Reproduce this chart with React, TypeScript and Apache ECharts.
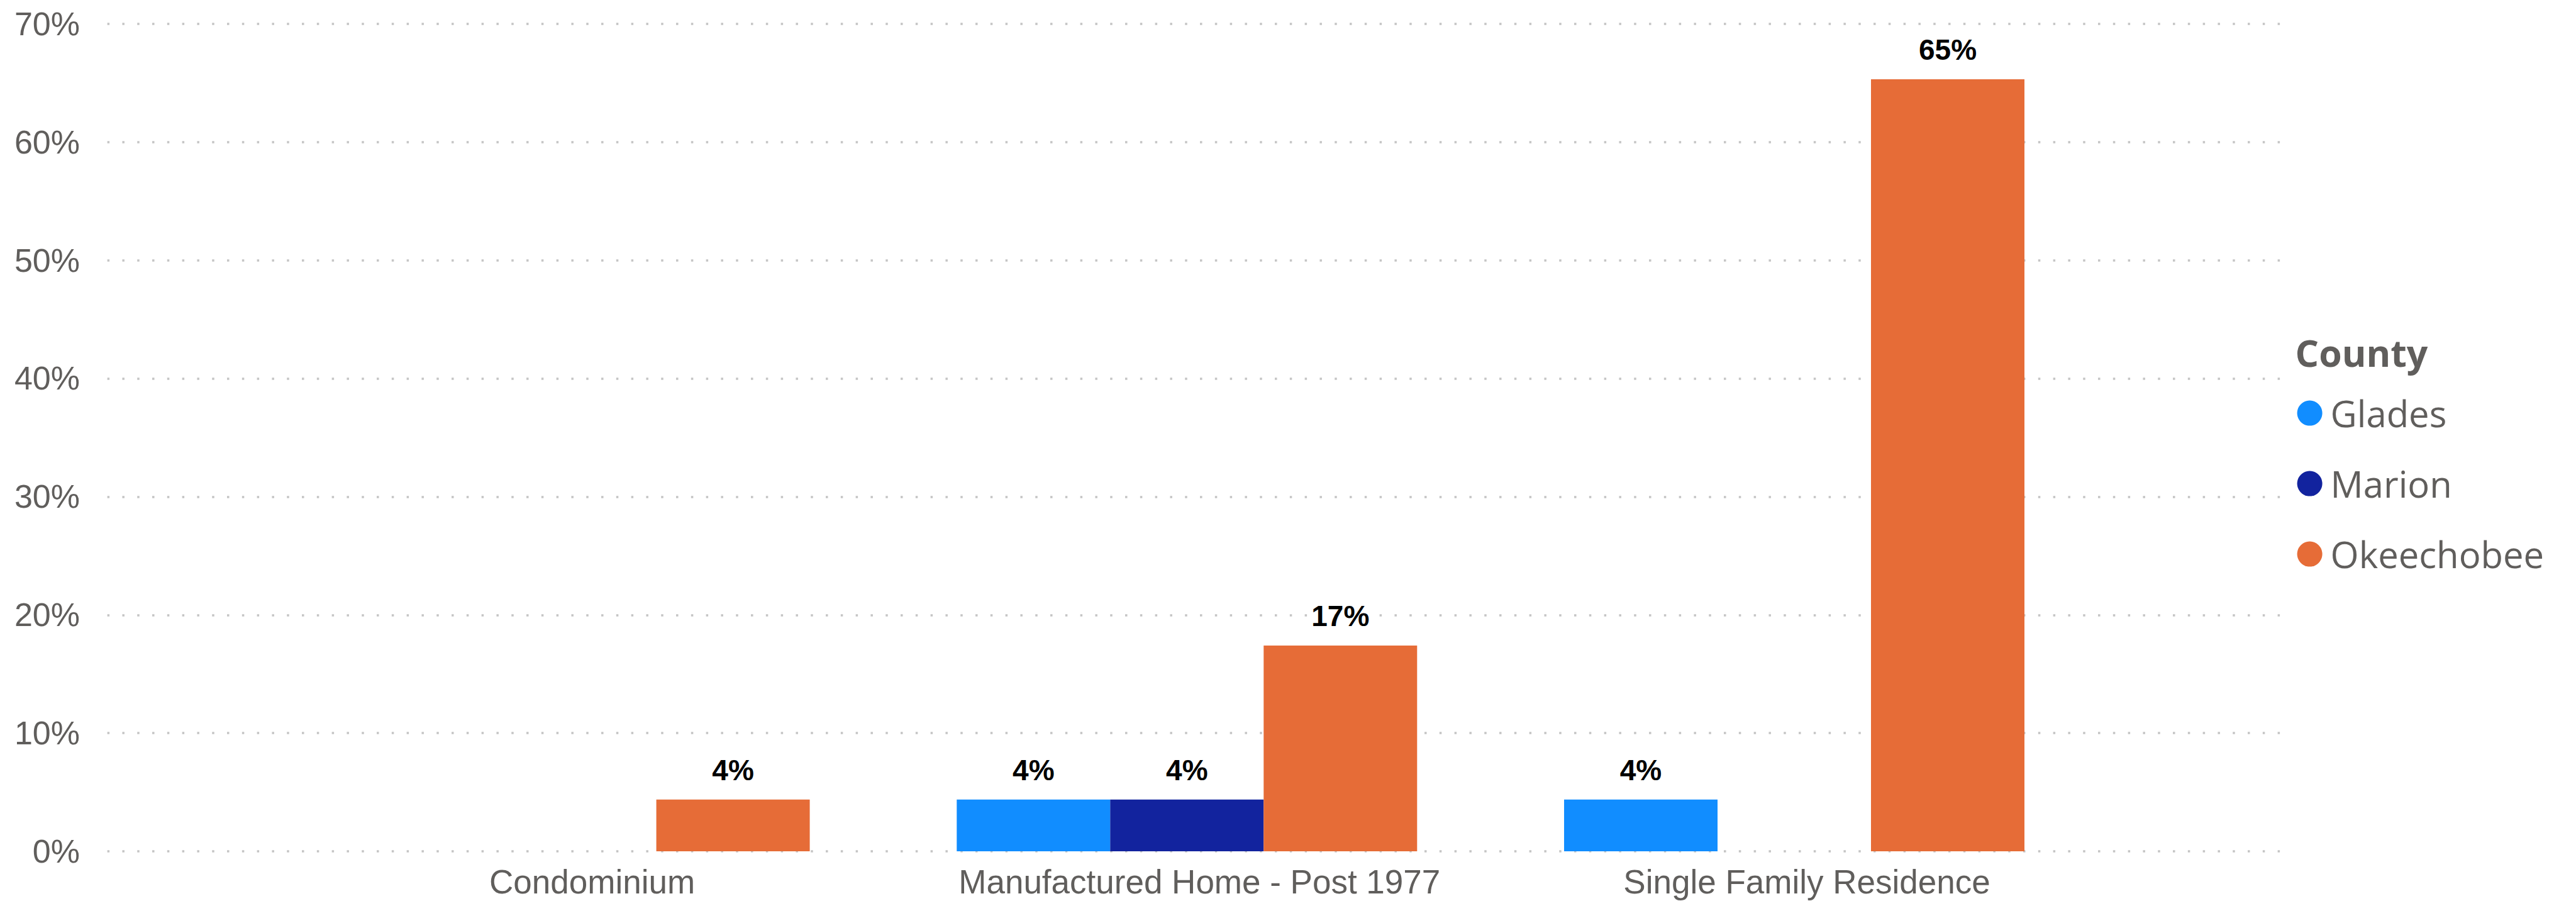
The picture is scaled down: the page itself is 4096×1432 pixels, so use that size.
import React, { useEffect, useRef } from 'react';
import * as echarts from 'echarts';

const categories = ['Condominium', 'Manufactured Home - Post 1977', 'Single Family Residence'];
const seriesNames = ['Glades', 'Marion', 'Okeechobee'];
const glades = [null, 4.38, 4.38];
const marion = [null, 4.38, null];
const okeechobee = [4.38, 17.41, 65.3];
const colors = ['#118DFF', '#12239E', '#E66C37'];
const yMin = 0;
const yMax = 70;
const yInterval = 10;
const legendTitle = 'County';

const S = 0.992;
const axisFont = "'Liberation Sans', Arial, sans-serif";
const legendFont = "'Segoe UI', 'Open Sans', sans-serif";
const gray = '#605E5C';

export default function App() {
  const ref = useRef<HTMLDivElement>(null);
  useEffect(() => {
    const chart = echarts.init(ref.current as HTMLDivElement, null, { renderer: 'svg' });
    const plotTop = 38 * S;
    const plotH = (1364 - 38) * S;
    const labelStyle = {
      show: true,
      position: 'top',
      distance: 24,
      formatter: (p: any) => Math.round(p.value) + '%',
      fontSize: 46,
      fontWeight: 'bold',
      color: '#000',
      fontFamily: axisFont,
    };
    const dataArr = [glades, marion, okeechobee];
    const option: any = {
      animation: false,
      backgroundColor: '#fff',
      title: {
        text: legendTitle,
        left: 3679 * S,
        top: 530.6,
        padding: 0,
        textStyle: { fontFamily: legendFont, fontWeight: 'bold', fontSize: 59, color: gray, lineHeight: 59 },
      },
      legend: {
        orient: 'vertical',
        left: 3652.6,
        top: 627.6,
        padding: 0,
        itemWidth: 40,
        itemHeight: 40,
        itemGap: 54,
        icon: 'circle',
        selectedMode: false,
        data: seriesNames,
        textStyle: { fontFamily: legendFont, fontSize: 58, color: gray, lineHeight: 40, padding: [0, 0, 0, 8] },
      },
      grid: [
        { left: 172 * S, top: plotTop, width: (3674 - 172) * S, height: plotH, containLabel: false },
        { left: 442.25 * S, top: plotTop, width: (3362.75 - 442.25) * S, height: plotH, containLabel: false },
      ],
      xAxis: [
        { type: 'category', gridIndex: 0, data: [''], show: false },
        {
          type: 'category',
          gridIndex: 1,
          data: categories,
          axisLine: { show: false },
          axisTick: { show: false },
          axisLabel: { fontSize: 53, color: gray, fontFamily: axisFont, margin: 22, padding: [0, 0, 0, 40], interval: 0 },
        },
      ],
      yAxis: [
        {
          type: 'value',
          gridIndex: 0,
          min: yMin,
          max: yMax,
          interval: yInterval,
          axisLine: { show: false },
          axisTick: { show: false },
          axisLabel: { fontSize: 52, color: gray, fontFamily: axisFont, margin: 44 * S, formatter: '{value}%' },
          splitLine: { show: true, lineStyle: { color: '#C4C4C4', width: 3.5, type: [3.5, 20.3] } },
        },
        {
          type: 'value',
          gridIndex: 1,
          min: yMin,
          max: yMax,
          interval: yInterval,
          show: false,
          splitLine: { show: false },
        },
      ],
      series: seriesNames.map((name, i) => ({
        name,
        type: 'bar',
        xAxisIndex: 1,
        yAxisIndex: 1,
        data: dataArr[i],
        itemStyle: { color: colors[i] },
        barGap: '0%',
        barCategoryGap: '24.2%',
        label: labelStyle,
      })),
    };
    chart.setOption(option);
    return () => chart.dispose();
  }, []);
  return (
    <div
      ref={ref}
      style={{ position: 'fixed', left: 0, top: 0, width: 4096, height: 1432, background: '#fff' }}
    />
  );
}
